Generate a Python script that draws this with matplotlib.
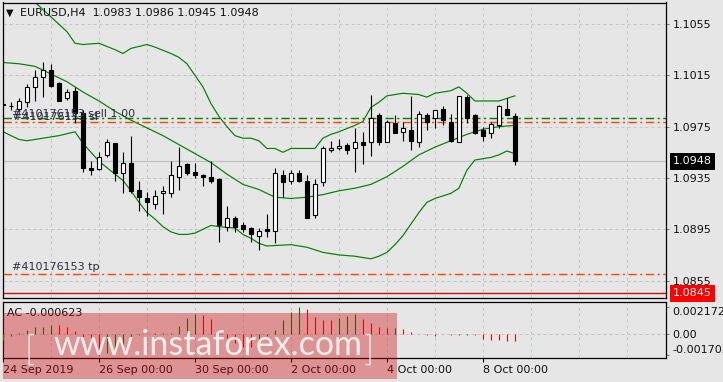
import matplotlib
matplotlib.use("Agg")
import matplotlib.pyplot as plt
from matplotlib import font_manager
from matplotlib.patches import Rectangle
import numpy as np

W, H = 723, 382

symbol = "EURUSD"
timeframe = "H4"

opens = [1.0993, 1.0991, 1.0989, 1.0994, 1.1006, 1.1014, 1.1019, 1.1009, 1.0997, 1.1003,
         1.0986, 1.0943, 1.0942, 1.0953, 1.0962, 1.0939, 1.0947, 1.0926, 1.0919, 1.0915,
         1.0923, 1.0923, 1.0936, 1.0946, 1.0940, 1.0937, 1.0936, 1.0934, 1.0897, 1.0904,
         1.0898, 1.0896, 1.0890, 1.0895, 1.0894, 1.0937, 1.0933, 1.0939, 1.0933, 1.0906,
         1.0932, 1.0957, 1.0958, 1.0961, 1.0958, 1.0963, 1.0963, 1.0984, 1.0963, 1.0978,
         1.0971, 1.0972, 1.0963, 1.0984, 1.0982, 1.0989, 1.0979, 1.0963, 1.0998, 1.0984,
         1.0972, 1.0970, 1.0976, 1.0989, 1.0983]
highs = [1.0998, 1.0994, 1.0997, 1.1008, 1.1019, 1.1025, 1.1024, 1.1010, 1.1004, 1.1006,
         1.0988, 1.0948, 1.0955, 1.0965, 1.0962, 1.0955, 1.0968, 1.0933, 1.0924, 1.0926,
         1.0929, 1.0948, 1.0959, 1.0947, 1.0947, 1.0938, 1.0948, 1.0935, 1.0913, 1.0905,
         1.0901, 1.0897, 1.0896, 1.0907, 1.0943, 1.0941, 1.0941, 1.0941, 1.0937, 1.0934,
         1.0960, 1.0964, 1.0965, 1.0962, 1.0974, 1.0971, 1.1000, 1.0986, 1.0980, 1.0984,
         1.0979, 1.0999, 1.0987, 1.0986, 1.0988, 1.0991, 1.0985, 1.0999, 1.1000, 1.0985,
         1.0975, 1.0979, 1.0992, 1.0997, 1.0986]
lows = [1.0990, 1.0988, 1.0987, 1.0990, 1.0995, 1.0998, 1.1006, 1.0995, 1.0996, 1.0978,
        1.0940, 1.0937, 1.0941, 1.0951, 1.0933, 1.0923, 1.0923, 1.0909, 1.0905, 1.0911,
        1.0907, 1.0920, 1.0926, 1.0937, 1.0935, 1.0929, 1.0931, 1.0885, 1.0894, 1.0893,
        1.0893, 1.0885, 1.0879, 1.0889, 1.0884, 1.0920, 1.0930, 1.0932, 1.0904, 1.0904,
        1.0929, 1.0955, 1.0957, 1.0954, 1.0940, 1.0946, 1.0952, 1.0961, 1.0963, 1.0970,
        1.0964, 1.0957, 1.0959, 1.0972, 1.0974, 1.0976, 1.0963, 1.0963, 1.0978, 1.0969,
        1.0964, 1.0966, 1.0974, 1.0984, 1.0945]
closes = [1.0992, 1.0991, 1.0995, 1.1006, 1.1014, 1.1019, 1.1007, 1.0995, 1.1002, 1.0986,
          1.0943, 1.0941, 1.0951, 1.0963, 1.0939, 1.0947, 1.0925, 1.0920, 1.0916, 1.0921,
          1.0925, 1.0937, 1.0944, 1.0939, 1.0937, 1.0936, 1.0933, 1.0898, 1.0904, 1.0897,
          1.0895, 1.0891, 1.0894, 1.0894, 1.0939, 1.0932, 1.0939, 1.0933, 1.0904, 1.0930,
          1.0958, 1.0958, 1.0960, 1.0957, 1.0963, 1.0961, 1.0982, 1.0963, 1.0979, 1.0970,
          1.0974, 1.0964, 1.0985, 1.0979, 1.0988, 1.0980, 1.0964, 1.0999, 1.0982, 1.0970,
          1.0968, 1.0977, 1.0991, 1.0984, 1.0948]

# bollinger bands at some bar indices
upper_idx = [0, 2, 4, 8, 9, 10, 12, 14, 15, 16, 18, 19, 21, 22, 23, 24, 25, 26, 27, 28,
             29, 30, 31, 32, 33, 34, 35, 36, 37, 39, 40, 41, 42, 44, 45, 46, 47, 48, 50, 52,
             53, 54, 55, 56, 57, 58, 59, 60, 62, 63, 64]
upper_val = [1.1089, 1.1080, 1.1072, 1.1049, 1.1040, 1.1039, 1.1040, 1.1035, 1.1032, 1.1036,
             1.1039, 1.1037, 1.1032, 1.1029, 1.1024, 1.1015, 1.1006, 1.0993, 1.0983, 1.0975,
             1.0968, 1.0966, 1.0966, 1.0964, 1.0958, 1.0958, 1.0955, 1.0958, 1.0958, 1.0958,
             1.0966, 1.0969, 1.0971, 1.0976, 1.0979, 1.0990, 1.0994, 1.0999, 1.1001, 1.1000,
             1.0998, 1.1001, 1.1002, 1.1003, 1.1006, 1.1001, 1.0995, 1.0995, 1.0995, 1.0997,
             1.0999]
middle_idx = list(range(0, 65, 2))
middle_val = [1.1025, 1.1024, 1.1022, 1.1016, 1.1010, 1.1002, 1.0995, 1.0987, 1.0980, 1.0974,
              1.0968, 1.0961, 1.0954, 1.0947, 1.0938, 1.0930, 1.0926, 1.0920, 1.0919, 1.0920,
              1.0922, 1.0925, 1.0927, 1.0930, 1.0936, 1.0944, 1.0953, 1.0959, 1.0964, 1.0969,
              1.0973, 1.0975, 1.0976]
lower_idx = [0, 2, 3, 4, 5, 7, 9, 10, 11, 12, 14, 15, 16, 17, 18, 19, 20, 21, 22, 23,
             24, 25, 26, 27, 29, 30, 31, 32, 33, 36, 38, 40, 42, 44, 46, 47, 48, 49, 50, 51,
             52, 53, 54, 55, 56, 57, 58, 59, 60, 61, 62, 63, 64]
lower_val = [1.0971, 1.0965, 1.0964, 1.0965, 1.0966, 1.0968, 1.0971, 1.0962, 1.0955, 1.0948,
             1.0938, 1.0933, 1.0925, 1.0916, 1.0908, 1.0903, 1.0897, 1.0893, 1.0891, 1.0891,
             1.0892, 1.0895, 1.0898, 1.0897, 1.0896, 1.0891, 1.0888, 1.0884, 1.0882, 1.0883,
             1.0881, 1.0877, 1.0875, 1.0874, 1.0872, 1.0874, 1.0877, 1.0883, 1.0890, 1.0899,
             1.0908, 1.0916, 1.0919, 1.0921, 1.0923, 1.0927, 1.0941, 1.0949, 1.0950, 1.0951,
             1.0953, 1.0956, 1.0954]

# accelerator oscillator
ac = [-0.00050, -0.00016, 0.00004, 0.00030, 0.00050, 0.00056, 0.00072, 0.00070, 0.00056, 0.00022,
      -0.00024, -0.00080, -0.001703, -0.00152, -0.00118, -0.00088, -0.00024, -0.00010, -0.00005, 0.00002,
      0.00004, 0.00008, 0.00062, 0.00126, 0.00158, 0.00152, 0.00114, 0.00030, -0.00038, -0.00078,
      -0.00104, -0.00110, -0.00085, -0.00020, 0.00030, 0.00110, 0.00170, 0.002172, 0.00198, 0.00136,
      0.00110, 0.00106, 0.00122, 0.00142, 0.00158, 0.00118, 0.00082, 0.00056, 0.00042, 0.00048,
      0.00034, 0.00016, -0.00001, -0.00008, -0.00016, -0.00003, -0.00010, -0.00012, -0.00008, -0.00014,
      -0.00042, -0.00048, -0.00049, -0.00056, -0.000623]

order_id = "#410176153"
sell_price = 1.09815
sl_price = 1.09785
tp_price = 1.0860
line_price = 1.0845
bid = 1.0948

price_ticks = [1.0855, 1.0895, 1.0935, 1.0975, 1.1015, 1.1055]
time_ticks = [0, 12, 24, 36, 48, 60]
time_labels = ["24 Sep 2019", "26 Sep 00:00", "30 Sep 00:00", "2 Oct 00:00", "4 Oct 00:00", "8 Oct 00:00"]
ac_ticks = [-0.001703, 0.0, 0.002172]
ac_labels = ["-0.001703", "0.00", "0.002172"]

BG = "#e6e6e6"
GRID = "#c4c4c4"
TXT = "#111111"
plt.rcParams["font.family"] = ["DejaVu Sans"]


def fx(px):
    return px / W


def fy(py):
    return 1 - py / H


fig = plt.figure(figsize=(W / 100, H / 100), dpi=100, facecolor=BG)
ax = fig.add_axes([fx(2.7), fy(298), (666 - 2.7) / W, (298 - 2.5) / H], facecolor=BG)
ax2 = fig.add_axes([fx(2.7), fy(358), (666 - 2.7) / W, (358 - 302) / H], facecolor=BG)

xlim = (-0.04, 82.9)
x = np.arange(len(closes))
o, h, l, c = map(np.array, (opens, highs, lows, closes))

# --- main price panel ---
ax.set_xlim(*xlim)
ax.set_ylim(1.084144, 1.107176)
ax.set_xticks(range(0, 84, 6))
ax.set_yticks(price_ticks)
ax.set_yticklabels([f"{p:.4f}" for p in price_ticks])
ax.yaxis.tick_right()
ax.tick_params(axis="y", length=2.2, width=0.6, color="#666666", pad=2.9, labelsize=8, labelcolor=TXT)
ax.tick_params(axis="x", bottom=False, labelbottom=False)
ax.grid(True, color=GRID, lw=0.72, linestyle=(0, (3, 3)))
ax.set_axisbelow(True)
for s in ax.spines.values():
    s.set_color("black")
    s.set_linewidth(0.9)

ax.axhline(bid, color="#c0c0c0", lw=0.9, zorder=1)

ax.plot(upper_idx, upper_val, color="#008000", lw=0.85, zorder=2)
ax.plot(middle_idx, middle_val, color="#008000", lw=0.85, zorder=2)
ax.plot(lower_idx, lower_val, color="#008000", lw=0.85, zorder=2)

ax.vlines(x, l, h, color="black", lw=0.8, zorder=3)
bull = c >= o
ax.bar(x, np.abs(c - o), bottom=np.minimum(o, c), width=0.58,
       color=np.where(bull, "white", "black"), edgecolor="black", linewidth=0.8, zorder=4)

dd = (0, (6, 2.5, 1.5, 2.5))
ax.axhline(sell_price, color="#008000", lw=1.0, linestyle=dd, zorder=2.5)
ax.axhline(sl_price, color="#ff4500", lw=1.0, linestyle=dd, zorder=2.5)
ax.axhline(tp_price, color="#ff4500", lw=1.0, linestyle=dd, zorder=2.5)
ax.axhline(line_price, color="#d01010", lw=1.0, zorder=2.5)

lab_col = "#2e2e40"
ax.annotate(f"{order_id} sell 1.00", xy=(0.014, sell_price), xycoords=("axes fraction", "data"),
            xytext=(0, 1), textcoords="offset points", va="baseline", fontsize=8, color=lab_col, zorder=5)
ax.annotate(f"{order_id} sl", xy=(0.016, sl_price), xycoords=("axes fraction", "data"),
            xytext=(0, 1.3), textcoords="offset points", va="baseline", fontsize=8, color=lab_col, zorder=5)
ax.annotate(f"{order_id} tp", xy=(0.0135, tp_price), xycoords=("axes fraction", "data"),
            xytext=(0, 3), textcoords="offset points", va="baseline", fontsize=8, color=lab_col, zorder=5)

tr = ax.get_yaxis_transform()
ax.text(1.0105, bid, f"{bid:.4f}", transform=tr, ha="left", va="center", fontsize=8, color="white",
        bbox=dict(boxstyle="square,pad=0.3", fc="black", ec="none"), clip_on=False, zorder=6)
ax.text(1.0105, line_price, f"{line_price:.4f}", transform=tr, ha="left", va="center", fontsize=8,
        color="white", bbox=dict(boxstyle="square,pad=0.3", fc="#ff0000", ec="none"), clip_on=False, zorder=6)

# --- AC sub window ---
ax2.set_xlim(*xlim)
ax2.set_ylim(-0.001944, 0.002536)
ac_arr = np.array(ac)
prev = np.concatenate([[-1.0], ac_arr[:-1]])
ac_cols = np.where(ac_arr >= prev, "#008000", "#ff0000")
ax2.vlines(x, 0, ac_arr, colors=ac_cols, lw=0.8, zorder=3)
ax2.axhline(0, color=GRID, lw=0.72, linestyle=(0, (3, 3)), zorder=1)
ax2.set_xticks(time_ticks)
ax2.set_xticklabels(time_labels, ha="left", fontsize=8, color=TXT)
ax2.set_xticks(range(0, 84, 6), minor=True)
ax2.tick_params(axis="x", which="major", length=3, width=0.8, color="black", pad=2)
ax2.tick_params(axis="x", which="minor", length=0)
ax2.grid(True, axis="x", which="both", color=GRID, lw=0.72, linestyle=(0, (3, 3)))
ax2.set_axisbelow(True)
ax2.set_yticks(ac_ticks)
ax2.set_yticklabels(ac_labels)
ax2.yaxis.tick_right()
ax2.tick_params(axis="y", length=2.2, width=0.6, color="#666666", pad=2.2, labelsize=8, labelcolor=TXT)
yl = ax2.get_yticklabels()
yl[0].set_va("bottom")
yl[2].set_va("top")
for s in ax2.spines.values():
    s.set_color("black")
    s.set_linewidth(0.9)

fig.text(fx(7), fy(313), f"AC {ac[-1]:.6f}", fontsize=8, color=TXT, va="center", ha="left")

# title
fig.text(fx(6), fy(12.5), "\u25bc", fontsize=7, color=TXT, va="center", ha="left")
fig.text(fx(20.5), fy(13), f"{symbol},{timeframe}  {opens[-1]:.4f} {highs[-1]:.4f} {lows[-1]:.4f} {closes[-1]:.4f}",
         fontsize=8, color=TXT, va="center", ha="left")

# watermark
fig.patches.append(Rectangle((fx(3), fy(379)), 394 / W, 66.3 / H, transform=fig.transFigure,
                             facecolor=(0.81, 0.05, 0.05), alpha=0.38, edgecolor="none", zorder=10))
names = {f.name for f in font_manager.fontManager.ttflist}
if "Liberation Sans Narrow" in names:
    wm_font = ["Liberation Sans Narrow"]
elif "Lato" in names:
    wm_font = ["Lato"]
else:
    wm_font = ["Liberation Sans"]
wm = fig.text(fx(53), fy(355), "www.instaforex.com", fontsize=30, color="white", alpha=0.85,
              family=wm_font, weight="normal", va="baseline", ha="left", zorder=11)
fig.text(fx(25), fy(360), "[", fontsize=25, color="white", alpha=0.85, family=wm_font, weight=300,
         va="baseline", ha="left", zorder=11)
fig.text(fx(364), fy(360), "]", fontsize=25, color="white", alpha=0.85, family=wm_font, weight=300,
         va="baseline", ha="left", zorder=11)
fig.canvas.draw()
bb = wm.get_window_extent()
wm.set_fontsize(30 * 309 / bb.width)

fig.savefig("out.png", dpi=100, facecolor=BG)
